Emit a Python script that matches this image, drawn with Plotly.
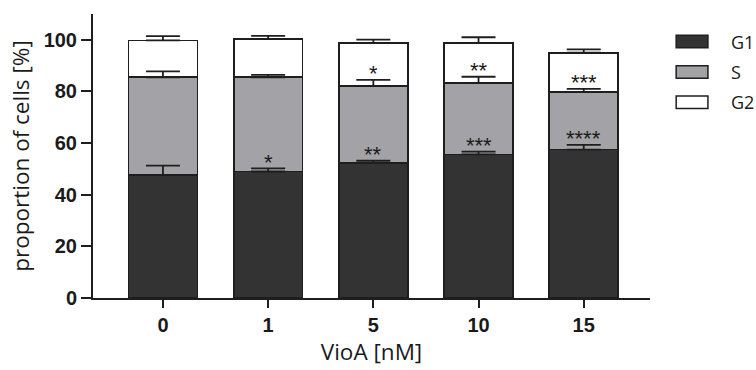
import numpy as np
import plotly.graph_objects as go

categories = ["0", "1", "5", "10", "15"]
g1 = [47.7, 49.0, 52.4, 55.6, 57.5]
s_phase = [37.8, 36.5, 29.7, 27.7, 22.3]
g2 = [14.3, 14.9, 16.6, 15.4, 15.2]
g1_err = [3.6, 1.2, 0.8, 1.1, 1.8]
s_err = [2.3, 0.9, 2.4, 2.4, 1.2]
g2_err = [1.6, 1.1, 1.4, 2.3, 1.3]
s_sig = ["", "*", "**", "***", "****"]
g2_sig = ["", "", "*", "**", "***"]
series_names = ["G1", "S", "G2"]
y_ticks = [0, 20, 40, 60, 80, 100]

colors = ["#333333", "#a3a3a7", "#ffffff"]
edge = "#1e1e1e"

values = [g1, s_phase, g2]
errors = [g1_err, s_err, g2_err]
tops = np.cumsum(np.array(values), axis=0)

fig = go.Figure()
for name, vals, col in zip(series_names, values, colors):
    fig.add_trace(go.Bar(
        x=categories, y=vals, name=name, width=0.655,
        marker=dict(color=col, line=dict(color=edge, width=1.6)),
        showlegend=False,
    ))

# error bars drawn above all bar segments
for name, top, err in zip(series_names, tops, errors):
    fig.add_trace(go.Scatter(
        x=categories, y=top, mode="markers",
        marker=dict(size=1, opacity=0),
        error_y=dict(type="data", array=err, arrayminus=[0] * len(err),
                     symmetric=False, color=edge, thickness=1.8, width=17),
        showlegend=False, hoverinfo="skip",
    ))

# significance stars
annotations = []
for sig_list, lower_top, lower_err in [(s_sig, tops[0], g1_err), (g2_sig, tops[1], s_err)]:
    for i, (sig, t, e) in enumerate(zip(sig_list, lower_top, lower_err)):
        if sig:
            annotations.append(dict(
                x=i, y=t + e, xref="x", yref="y", text=sig, showarrow=False,
                yanchor="middle", yshift=6,
                font=dict(family="Liberation Sans", size=22, color="#1a1a1a"),
            ))

# legend (drawn manually to match wide swatches)
shapes = []
leg_y = [0.903, 0.796, 0.689]
for name, col, yc in zip(series_names, colors, leg_y):
    shapes.append(dict(type="rect", xref="paper", yref="paper",
                       x0=1.047, x1=1.104, y0=yc - 0.022, y1=yc + 0.022,
                       fillcolor=col, line=dict(color=edge, width=1.5)))
    annotations.append(dict(x=1.142, y=yc, xref="paper", yref="paper", text=name,
                            showarrow=False, xanchor="left", yanchor="middle",
                            font=dict(family="Open Sans", size=18, color="#1a1a1a")))

fig.update_layout(
    width=756, height=370,
    margin=dict(l=93, r=106, t=14, b=67),
    paper_bgcolor="white", plot_bgcolor="white",
    barmode="stack",
    shapes=shapes, annotations=annotations,
    xaxis=dict(
        type="category", range=[-0.665, 4.63],
        showline=True, linecolor="#1e1e1e", linewidth=2,
        ticks="outside", ticklen=8, tickwidth=2, tickcolor="#1e1e1e",
        tickfont=dict(family="Liberation Sans", size=20, color="#1a1a1a", weight="bold"),
        title=dict(text="VioA [nM]", standoff=6,
                   font=dict(family="Open Sans", size=22.5, color="#1a1a1a")),
        showgrid=False, zeroline=False,
    ),
    yaxis=dict(
        range=[0, 110], tickvals=y_ticks,
        showline=True, linecolor="#1e1e1e", linewidth=2,
        ticks="outside", ticklen=10, tickwidth=2, tickcolor="#1e1e1e",
        tickfont=dict(family="Liberation Sans", size=20, color="#1a1a1a", weight="bold"),
        title=dict(text="proportion of cells [%]", standoff=8,
                   font=dict(family="Open Sans", size=22.5, color="#1a1a1a")),
        showgrid=False, zeroline=False,
    ),
)

fig.write_html("out.html")
